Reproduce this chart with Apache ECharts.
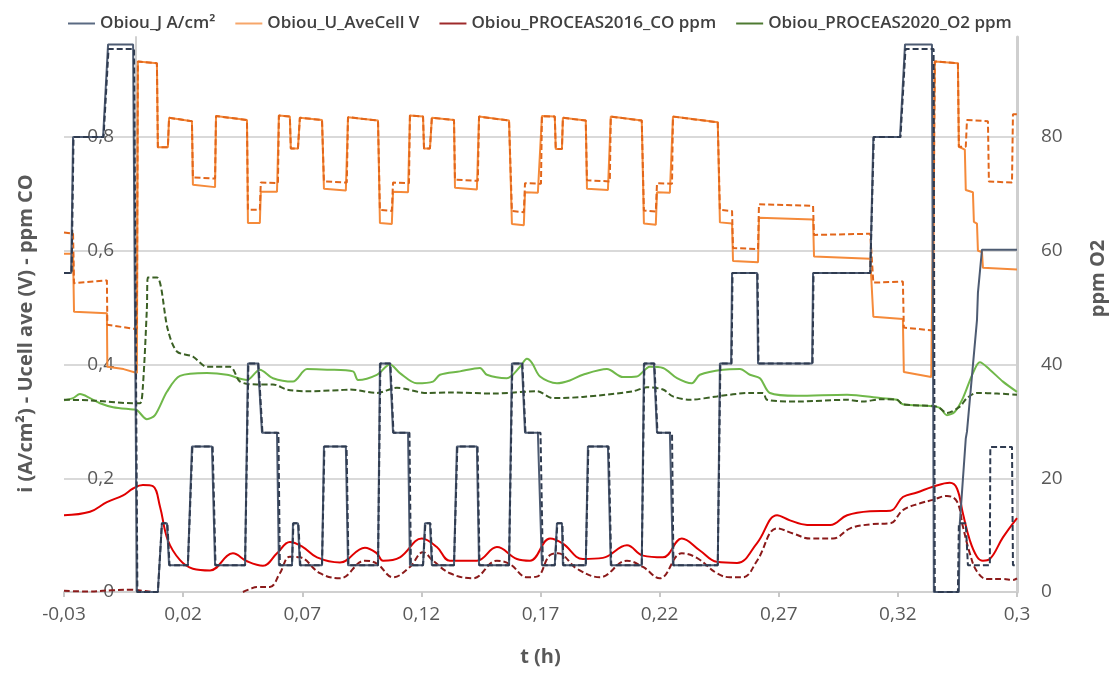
<!DOCTYPE html>
<html>
<head>
<meta charset="utf-8">
<script src="https://cdn.jsdelivr.net/npm/echarts@6/dist/echarts.min.js"></script>
<style>
  html, body {margin:0; padding:0; background:#fff;}
  #chart {width:1115px; height:673px;}
</style>
</head>
<body>
<div id="chart"></div>
<script>
// t (h) ticks, labelled like the original sheet
const xTicks = [-0.03, 0.02, 0.07, 0.12, 0.17, 0.22, 0.27, 0.32, 0.37];
const xTickLabels = ['-0,03', '0,02', '0,07', '0,12', '0,17', '0,22', '0,27', '0,32', '0,3'];

// Obiou_J A/cm2 (solid = run 1, dashed = run 2)
const jSolid = [
  [-0.0300,0.561],[-0.0270,0.561],[-0.0262,0.800],[-0.0136,0.800],[-0.0115,0.963],[-0.0010,0.963],[0.0006,0.000],[0.0094,0.000],
  [0.0111,0.121],[0.0132,0.121],[0.0141,0.047],[0.0220,0.047],[0.0237,0.256],[0.0321,0.256],[0.0334,0.047],[0.0460,0.047],
  [0.0472,0.402],[0.0514,0.402],[0.0531,0.280],[0.0594,0.280],[0.0602,0.047],[0.0657,0.047],[0.0661,0.121],[0.0682,0.121],
  [0.0690,0.047],[0.0783,0.047],[0.0791,0.256],[0.0883,0.256],[0.0892,0.047],
  [0.1018,0.047],[0.1026,0.402],[0.1068,0.402],[0.1081,0.280],[0.1144,0.280],[0.1152,0.047],[0.1207,0.047],[0.1215,0.121],
  [0.1236,0.121],[0.1244,0.047],[0.1337,0.047],[0.1349,0.256],[0.1433,0.256],[0.1442,0.047],
  [0.1568,0.047],[0.1580,0.402],[0.1622,0.402],[0.1635,0.280],[0.1689,0.280],[0.1706,0.047],[0.1760,0.047],[0.1769,0.121],
  [0.1790,0.121],[0.1794,0.047],[0.1890,0.047],[0.1899,0.256],[0.1983,0.256],[0.1995,0.047],
  [0.2125,0.047],[0.2134,0.402],[0.2176,0.402],[0.2189,0.280],[0.2243,0.280],[0.2256,0.047],[0.2444,0.047],[0.2453,0.402],
  [0.2500,0.402],[0.2504,0.561],[0.2609,0.561],[0.2613,0.402],[0.2840,0.402],[0.2844,0.561],[0.3084,0.561],[0.3097,0.800],
  [0.3209,0.800],[0.3230,0.963],[0.3343,0.963],[0.3351,0.000],[0.3456,0.000],[0.3460,0.121],[0.3485,0.270],[0.3490,0.282],
  [0.3532,0.478],[0.3536,0.526],[0.3553,0.602],[0.3700,0.602]
];
const jDashed = [
  [-0.0300,0.561],[-0.0268,0.561],[-0.0260,0.800],[-0.0134,0.800],[-0.0113,0.955],[-0.0006,0.955],[0.0008,0.000],[0.0094,0.000],
  [0.0111,0.121],[0.0134,0.121],[0.0143,0.047],[0.0220,0.047],[0.0239,0.256],[0.0324,0.256],[0.0336,0.047],[0.0460,0.047],
  [0.0474,0.402],[0.0516,0.402],[0.0533,0.280],[0.0600,0.280],[0.0606,0.047],[0.0657,0.047],[0.0663,0.121],[0.0684,0.121],
  [0.0692,0.047],[0.0783,0.047],[0.0793,0.256],[0.0886,0.256],[0.0894,0.047],
  [0.1018,0.047],[0.1028,0.402],[0.1070,0.402],[0.1083,0.280],[0.1150,0.280],[0.1156,0.047],[0.1207,0.047],[0.1217,0.121],
  [0.1238,0.121],[0.1246,0.047],[0.1337,0.047],[0.1351,0.256],[0.1436,0.256],[0.1444,0.047],
  [0.1568,0.047],[0.1582,0.402],[0.1624,0.402],[0.1637,0.280],[0.1700,0.280],[0.1710,0.047],[0.1760,0.047],[0.1771,0.121],
  [0.1792,0.121],[0.1796,0.047],[0.1890,0.047],[0.1901,0.256],[0.1986,0.256],[0.1997,0.047],
  [0.2125,0.047],[0.2136,0.402],[0.2178,0.402],[0.2191,0.280],[0.2252,0.280],[0.2258,0.047],[0.2444,0.047],[0.2455,0.402],
  [0.2502,0.402],[0.2506,0.561],[0.2611,0.561],[0.2615,0.402],[0.2842,0.402],[0.2846,0.561],[0.3084,0.561],[0.3099,0.800],
  [0.3211,0.800],[0.3232,0.955],[0.3350,0.955],[0.3355,0.000],[0.3452,0.000],[0.3456,0.121],[0.3485,0.121],[0.3494,0.047],
  [0.3586,0.047],[0.3588,0.255],[0.3679,0.255],[0.3683,0.047],[0.3700,0.047]
];

// Obiou_U_AveCell V
const uSolid = [
  [-0.0300,0.595],[-0.0262,0.595],[-0.0258,0.493],[-0.0120,0.490],[-0.0118,0.396],[-0.0050,0.392],[0.0006,0.385],
  [0.0010,0.933],[0.0090,0.930],[0.0094,0.782],[0.0136,0.782],[0.0141,0.834],[0.0237,0.828],[0.0241,0.716],[0.0334,0.712],
  [0.0338,0.837],[0.0468,0.830],[0.0472,0.649],[0.0522,0.649],[0.0526,0.704],[0.0594,0.704],[0.0602,0.838],[0.0648,0.836],
  [0.0652,0.780],[0.0682,0.780],[0.0690,0.834],[0.0783,0.830],[0.0791,0.709],[0.0883,0.706],[0.0892,0.835],[0.1018,0.829],
  [0.1026,0.649],[0.1076,0.647],[0.1081,0.704],[0.1144,0.703],[0.1152,0.838],[0.1207,0.836],[0.1211,0.780],[0.1236,0.780],
  [0.1244,0.834],[0.1337,0.830],[0.1341,0.711],[0.1433,0.708],[0.1442,0.836],[0.1568,0.829],
  [0.1580,0.647],[0.1630,0.645],[0.1635,0.703],[0.1689,0.702],[0.1706,0.837],[0.1760,0.836],[0.1764,0.779],[0.1790,0.779],
  [0.1794,0.834],[0.1890,0.829],[0.1895,0.709],[0.1983,0.707],[0.1995,0.836],[0.2125,0.829],
  [0.2134,0.648],[0.2184,0.646],[0.2189,0.703],[0.2243,0.702],[0.2256,0.836],[0.2444,0.826],
  [0.2453,0.650],[0.2504,0.648],[0.2508,0.582],[0.2613,0.580],[0.2617,0.658],[0.2844,0.655],[0.2848,0.590],[0.3084,0.586],
  [0.3097,0.484],[0.3221,0.480],[0.3225,0.387],[0.3340,0.378],[0.3347,0.375],[0.3355,0.933],[0.3452,0.930],[0.3456,0.783],
  [0.3481,0.778],[0.3485,0.707],[0.3515,0.703],[0.3519,0.651],[0.3532,0.648],[0.3536,0.600],[0.3553,0.598],[0.3557,0.570],
  [0.3700,0.567]
];
const uDashed = [
  [-0.0300,0.632],[-0.0262,0.630],[-0.0258,0.543],[-0.0120,0.548],[-0.0118,0.470],[-0.0010,0.463],[0.0006,0.463],
  [0.0010,0.933],[0.0090,0.930],[0.0094,0.782],[0.0136,0.782],[0.0141,0.834],[0.0237,0.828],[0.0241,0.729],[0.0334,0.727],
  [0.0338,0.837],[0.0468,0.830],[0.0472,0.672],[0.0522,0.672],[0.0526,0.720],[0.0598,0.719],[0.0602,0.838],[0.0648,0.836],
  [0.0652,0.780],[0.0682,0.780],[0.0690,0.834],[0.0783,0.830],[0.0791,0.722],[0.0887,0.720],[0.0892,0.835],[0.1018,0.829],
  [0.1026,0.672],[0.1076,0.670],[0.1081,0.720],[0.1148,0.719],[0.1152,0.838],[0.1207,0.836],[0.1211,0.780],[0.1236,0.780],
  [0.1244,0.834],[0.1337,0.830],[0.1341,0.725],[0.1437,0.723],[0.1442,0.836],[0.1568,0.829],
  [0.1580,0.670],[0.1630,0.668],[0.1635,0.719],[0.1702,0.718],[0.1706,0.837],[0.1760,0.836],[0.1764,0.779],[0.1790,0.779],
  [0.1794,0.834],[0.1890,0.829],[0.1895,0.724],[0.1991,0.722],[0.1995,0.836],[0.2125,0.829],
  [0.2134,0.671],[0.2184,0.669],[0.2189,0.719],[0.2252,0.718],[0.2256,0.836],[0.2444,0.826],
  [0.2453,0.672],[0.2504,0.670],[0.2508,0.605],[0.2613,0.603],[0.2617,0.682],[0.2844,0.679],[0.2848,0.628],[0.3084,0.630],
  [0.3097,0.544],[0.3221,0.546],[0.3225,0.465],[0.3347,0.460],[0.3355,0.933],[0.3452,0.930],[0.3456,0.783],[0.3485,0.783],
  [0.3490,0.830],[0.3578,0.828],[0.3582,0.722],[0.3679,0.720],[0.3683,0.840],[0.3700,0.840]
];

// Obiou_PROCEAS2016_CO ppm
const coSolid = [
  [-0.0300,0.135],[-0.0191,0.141],[-0.0120,0.158],[-0.0052,0.170],[-0.0010,0.182],[0.0031,0.188],[0.0073,0.186],[0.0103,0.150],
  [0.0136,0.091],[0.0187,0.056],[0.0241,0.041],[0.0313,0.038],[0.0409,0.068],[0.0468,0.054],[0.0535,0.046],[0.0594,0.068],
  [0.0648,0.088],[0.0703,0.079],[0.0762,0.061],[0.0858,0.052],[0.0963,0.078],[0.1013,0.068],[0.1039,0.055],[0.1110,0.061],
  [0.1202,0.094],[0.1265,0.079],[0.1320,0.055],[0.1433,0.055],[0.1517,0.079],[0.1601,0.058],[0.1656,0.055],[0.1740,0.094],
  [0.1794,0.085],[0.1878,0.058],[0.1962,0.060],[0.2063,0.082],[0.2130,0.064],[0.2214,0.061],[0.2293,0.094],[0.2369,0.073],
  [0.2440,0.053],[0.2525,0.051],[0.2609,0.086],[0.2693,0.135],[0.2747,0.126],[0.2819,0.118],[0.2916,0.118],[0.2987,0.135],
  [0.3084,0.142],[0.3169,0.143],[0.3221,0.167],[0.3280,0.175],[0.3347,0.185],[0.3418,0.192],[0.3448,0.182],[0.3473,0.138],
  [0.3502,0.091],[0.3532,0.062],[0.3557,0.055],[0.3586,0.058],[0.3641,0.096],[0.3700,0.130]
];
const coDashed = [
  [-0.0300,0.002],[-0.0200,0.001],[-0.0100,0.003],[-0.0020,0.004],[0.0030,0.002],[0.0082,0.000],[0.0200,null],
  [0.0451,0.000],[0.0480,0.005],[0.0510,0.009],[0.0564,0.009],[0.0606,0.033],[0.0648,0.062],[0.0690,0.061],[0.0774,0.033],
  [0.0858,0.024],[0.0963,0.055],[0.1013,0.050],[0.1081,0.026],[0.1152,0.044],[0.1207,0.070],[0.1249,0.055],[0.1320,0.033],
  [0.1416,0.024],[0.1517,0.055],[0.1572,0.049],[0.1643,0.026],[0.1685,0.027],[0.1740,0.065],[0.1773,0.068],[0.1853,0.041],
  [0.1949,0.026],[0.2063,0.055],[0.2130,0.044],[0.2201,0.024],[0.2293,0.068],[0.2356,0.060],[0.2440,0.033],[0.2495,0.026],
  [0.2550,0.026],[0.2609,0.055],[0.2693,0.112],[0.2760,0.103],[0.2832,0.094],[0.2928,0.094],[0.3000,0.112],[0.3084,0.119],
  [0.3169,0.121],[0.3221,0.144],[0.3293,0.156],[0.3347,0.162],[0.3406,0.169],[0.3448,0.159],[0.3473,0.115],[0.3502,0.068],
  [0.3532,0.036],[0.3574,0.023],[0.3641,0.023],[0.3683,0.021],[0.3700,0.024]
];

// Obiou_PROCEAS2020_O2 ppm (right axis)
const o2Solid = [
  [-0.0300,33.7],[-0.0262,34.1],[-0.0233,34.8],[-0.0191,34.1],[-0.0149,33.2],[-0.0094,32.5],[-0.0010,32.1],[0.0006,32.0],
  [0.0048,30.4],[0.0082,31.1],[0.0132,35.2],[0.0187,38.0],[0.0300,38.5],[0.0384,38.2],[0.0468,37.3],[0.0522,39.1],
  [0.0577,37.6],[0.0661,37.0],[0.0720,39.2],[0.0804,39.1],[0.0913,38.8],[0.0934,37.3],[0.1013,38.2],[0.1068,40.0],
  [0.1110,38.5],[0.1181,36.7],[0.1249,37.0],[0.1278,38.2],[0.1362,38.8],[0.1446,39.4],[0.1475,38.2],[0.1559,37.6],
  [0.1614,39.6],[0.1643,41.0],[0.1664,40.3],[0.1698,37.9],[0.1769,36.7],[0.1823,37.2],[0.1878,38.2],[0.1979,39.2],
  [0.2046,37.8],[0.2104,37.9],[0.2159,39.6],[0.2214,39.4],[0.2273,37.6],[0.2335,36.7],[0.2369,38.2],[0.2466,39.1],
  [0.2537,39.2],[0.2579,38.2],[0.2621,37.6],[0.2663,35.0],[0.2777,34.5],[0.2987,34.7],[0.3127,34.1],[0.3196,33.8],
  [0.3221,33.0],[0.3335,32.7],[0.3376,32.4],[0.3406,31.1],[0.3439,31.7],[0.3473,34.1],[0.3515,38.5],[0.3544,40.4],
  [0.3586,39.1],[0.3641,37.0],[0.3700,35.2]
];
const o2Dashed = [
  [-0.0300,33.8],[-0.0191,33.7],[-0.0010,33.2],[0.0019,33.2],[0.0031,36.1],[0.0048,50.0],[0.0052,55.3],[0.0090,55.3],
  [0.0136,46.1],[0.0174,42.3],[0.0241,41.4],[0.0300,39.6],[0.0397,39.6],[0.0439,37.0],[0.0510,36.5],[0.0577,36.5],
  [0.0636,35.6],[0.0720,35.3],[0.0858,35.5],[0.0900,35.6],[0.1013,35.0],[0.1097,35.9],[0.1223,35.0],[0.1320,35.1],
  [0.1501,34.9],[0.1685,35.3],[0.1752,34.1],[0.1878,34.3],[0.2088,35.3],[0.2147,36.0],[0.2214,35.6],[0.2256,34.4],
  [0.2327,33.8],[0.2440,34.4],[0.2579,35.0],[0.2634,35.0],[0.2651,33.8],[0.2777,33.5],[0.2987,33.8],[0.3055,33.5],
  [0.3127,33.9],[0.3196,33.8],[0.3221,33.0],[0.3364,32.6],[0.3406,31.5],[0.3460,32.6],[0.3490,34.1],[0.3532,35.0],
  [0.3616,34.9],[0.3700,34.7]
];

const names = ['Obiou_J A/cm²', 'Obiou_U_AveCell V', 'Obiou_PROCEAS2016_CO ppm', 'Obiou_PROCEAS2020_O2 ppm'];
const FONT = 'Open Sans';
const comma = v => String(+v.toFixed(2)).replace('.', ',');

function line(name, data, color, dashed, yAxisIndex, smooth) {
  return {
    type: 'line', name: name, data: data, yAxisIndex: yAxisIndex || 0,
    showSymbol: false, smooth: smooth || false, connectNulls: false,
    lineStyle: {color: color, width: 2, type: dashed ? [6, 3] : 'solid'},
    itemStyle: {color: color},
    emphasis: {disabled: true}
  };
}

const chart = echarts.init(document.getElementById('chart'), null, {renderer: 'canvas'});
chart.setOption({
  animation: false,
  backgroundColor: '#fff',
  textStyle: {fontFamily: FONT},
  legend: {
    top: 10, left: 63, itemWidth: 27, itemHeight: 2, itemGap: 20, icon: 'rect',
    textStyle: {fontFamily: FONT, fontSize: 17, fontWeight: 600, color: '#404040'},
    data: [
      {name: names[0], itemStyle: {color: '#5a6a82'}},
      {name: names[1], itemStyle: {color: '#f6a66a'}},
      {name: names[2], itemStyle: {color: '#9e2a2b'}},
      {name: names[3], itemStyle: {color: '#4e7a32'}}
    ]
  },
  grid: {left: 64, right: 98, top: 37, bottom: 81, outerBoundsMode: 'none'},
  xAxis: {
    type: 'value', min: -0.03, max: 0.37,
    name: 't (h)', nameLocation: 'middle', nameGap: 55,
    nameTextStyle: {fontFamily: FONT, fontSize: 20, fontWeight: 'bold', color: '#595959'},
    axisLine: {show: true, onZero: false, lineStyle: {color: '#d0d0d0', width: 2}},
    axisTick: {show: true, customValues: xTicks, length: 5, lineStyle: {color: '#c8c8c8', width: 2}},
    axisLabel: {
      customValues: xTicks, margin: 13, fontFamily: FONT, fontSize: 19, color: '#595959',
      formatter: v => {
        let i = xTicks.findIndex(t => Math.abs(t - v) < 1e-6);
        return i >= 0 ? xTickLabels[i] : '';
      }
    },
    splitLine: {show: false}
  },
  yAxis: [
    {
      type: 'value', min: 0, max: 0.976, interval: 0.2, position: 'left',
      name: 'i (A/cm²) - Ucell ave (V) - ppm CO', nameLocation: 'middle', nameGap: 28, nameRotate: 90,
      nameTextStyle: {fontFamily: FONT, fontSize: 20, fontWeight: 'bold', color: '#595959', padding: [0, 38, 0, 0]},
      axisLine: {show: true, lineStyle: {color: '#d0d0d0', width: 2}},
      axisTick: {show: false},
      axisLabel: {inside: true, margin: 50, align: 'right', showMaxLabel: false,
        fontFamily: FONT, fontSize: 19, color: '#595959', formatter: comma},
      splitLine: {show: true, showMinLine: false, showMaxLine: false, lineStyle: {color: '#d9d9d9', width: 2}}
    },
    {
      type: 'value', min: 0, max: 97.6, interval: 20, position: 'right',
      name: 'ppm O2', nameLocation: 'middle', nameGap: 71, nameRotate: 90,
      nameTextStyle: {fontFamily: FONT, fontSize: 20, fontWeight: 'bold', color: '#595959', padding: [0, 0, 0, 72]},
      axisLine: {show: true, lineStyle: {color: '#cfcfcf', width: 3}},
      axisTick: {show: false},
      axisLabel: {margin: 24, showMaxLabel: false, fontFamily: FONT, fontSize: 19, color: '#595959'},
      splitLine: {show: false}
    }
  ],
  series: [
    line(names[3], o2Solid, '#70b84a', false, 1, 0.3),
    line(names[3] + ' (2)', o2Dashed, '#3b6024', true, 1, 0.3),
    line(names[2], coSolid, '#e00000', false, 0, 0.4),
    line(names[2] + ' (2)', coDashed, '#8b1a1a', true, 0, 0.4),
    line(names[1], uSolid, '#f58a3a', false, 0),
    line(names[1] + ' (2)', uDashed, '#e2661a', true, 0),
    line(names[0], jSolid, '#4d5b72', false, 0),
    line(names[0] + ' (2)', jDashed, '#2f3b50', true, 0)
  ]
});
</script>
</body>
</html>
